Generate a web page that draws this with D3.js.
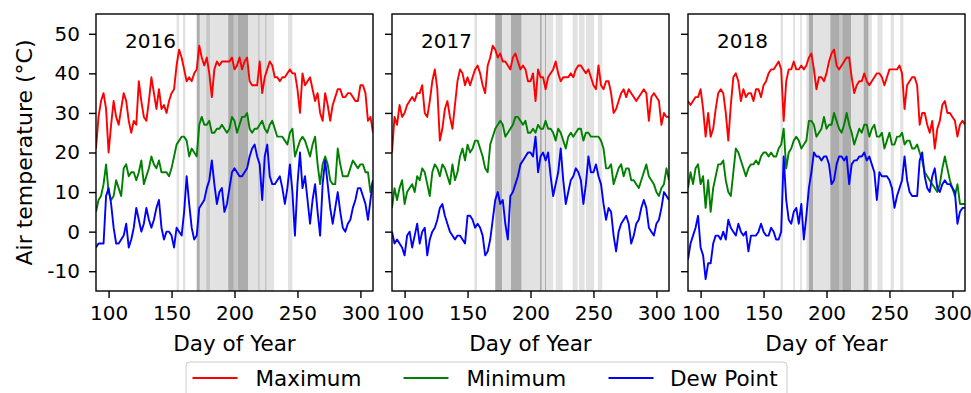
<!DOCTYPE html>
<html>
<head>
<meta charset="utf-8">
<script src="https://cdn.jsdelivr.net/npm/d3@7"></script>
<style>
  body { margin: 0; background: #fff; }
  text { font-family: "DejaVu Sans", sans-serif; fill: #000; }
</style>
</head>
<body>
<div id="viscontainer"></div>
<script>
const years = ["2016", "2017", "2018"];
const seriesNames = ["Maximum", "Minimum", "Dew Point"];
const xTicks = [100, 150, 200, 250, 300];
const yTicks = [-10, 0, 10, 20, 30, 40, 50];
// every second day of year, 90 .. 310
const days = d3.range(90, 311, 2);

const max2016 = [
  21,29,33,35,31,20,27,33,29,27,
  31,35,33,28,25,28,27,38,33,29,
  28,33,39,35,31,36,31,32,30,33,
  35,36,42,46,44,41,38,39,38,40,
  41,47,44,42,44,40,34,41,43,42,
  43,43,43,43,44,41,42,44,41,43,
  44,38,37,37,37,43,35,39,41,43,
  42,39,39,38,39,39,40,41,40,40,
  36,30,40,37,38,39,36,33,35,30,
  28,35,32,28,32,34,36,36,34,34,
  35,35,34,33,33,37,37,35,28,29,
  25];
const min2016 = [
  5,8,9,12,17,10,8,9,13,11,
  9,16,17,14,15,15,13,15,18,12,
  14,16,19,17,16,18,15,15,15,14,
  16,19,22,23,24,24,23,19,21,20,
  19,27,29,27,27,28,25,25,26,26,
  27,26,25,26,29,28,25,27,29,29,
  30,26,25,26,26,27,28,26,25,27,
  28,26,24,24,24,23,22,25,26,19,
  21,23,24,23,21,19,22,24,17,12,
  17,19,17,13,12,12,21,17,14,14,
  14,16,18,17,16,17,17,15,15,10,
  13];
const dew2016 = [
  -4,-3,-3,-3,9,11,7,1,-3,-3,
  -2,-1,2,-4,-2,1,6,3,0,2,
  6,3,1,3,6,8,1,-2,0,0,
  -1,-4,1,0,-1,5,14,7,1,-2,
  -1,6,7,8,11,13,18,12,7,10,
  11,5,7,11,15,16,15,14,14,15,
  16,19,21,22,19,17,8,19,22,14,
  12,12,13,14,11,7,11,17,10,-1,
  12,20,11,14,8,2,8,12,5,-1,
  12,18,12,6,2,6,10,5,1,0,
  2,3,6,8,11,11,9,7,3,8,
  13];

const max2017 = [
  20,29,27,32,29,30,32,33,34,33,
  35,35,37,30,29,33,38,41,36,23,
  26,31,33,29,26,32,38,41,40,37,
  39,37,39,41,42,40,37,35,42,44,
  47,46,44,45,43,43,42,41,44,45,
  43,41,42,41,38,38,40,33,41,39,
  39,36,39,40,41,43,40,38,39,39,
  39,40,39,41,42,42,41,40,41,39,
  37,36,42,37,36,38,38,35,30,31,
  33,35,36,34,36,35,34,33,34,35,
  36,35,28,34,35,34,33,27,30,29,
  29];
const min2017 = [
  6,11,8,11,13,7,10,11,12,10,
  14,13,16,15,12,9,15,17,16,14,
  17,16,14,12,17,13,15,19,21,18,
  22,20,21,23,23,21,19,16,15,22,
  24,26,27,28,27,24,25,26,27,29,
  29,28,27,28,25,25,26,25,27,26,
  26,28,26,26,25,23,26,25,23,21,
  24,25,24,25,26,26,23,25,25,24,
  24,24,24,23,21,16,16,17,12,14,
  16,17,14,16,16,13,13,12,11,13,
  15,17,14,13,12,10,9,11,12,16,
  13];
const dew2017 = [
  0,-3,-2,-3,-4,-6,-1,0,-4,-1,
  2,-3,0,1,-6,-2,0,1,3,6,
  7,4,2,0,-1,-2,-1,-1,-2,-3,
  4,4,3,1,2,1,-1,-6,-5,-2,
  3,8,10,7,8,2,-2,9,10,12,
  14,17,18,19,20,20,19,24,15,19,
  20,18,20,14,9,12,15,21,13,7,
  10,13,14,16,15,13,7,12,19,15,
  15,17,14,12,7,3,6,5,-1,-5,
  0,2,3,4,2,-3,-1,2,3,6,
  8,6,1,0,-1,2,3,6,10,9,
  8];

const max2018 = [
  33,32,33,34,34,36,31,24,30,24,
  26,31,35,36,35,30,23,32,39,40,
  38,33,36,34,35,35,33,36,36,34,
  37,38,40,41,41,42,43,41,28,38,
  41,41,43,41,41,42,41,42,44,45,
  41,36,39,39,38,40,43,45,46,42,
  41,42,43,44,44,39,35,37,38,38,
  40,38,37,38,39,40,40,39,37,39,
  41,41,41,41,42,40,31,37,38,39,
  39,37,27,30,30,27,25,28,21,26,
  28,32,33,30,30,29,28,24,27,28,
  27];
const min2018 = [
  11,15,12,16,17,12,14,6,13,5,
  11,14,17,17,18,13,10,9,15,21,
  20,18,16,14,16,17,17,18,17,19,
  20,20,19,20,19,19,21,22,26,16,
  20,21,23,24,23,21,22,23,28,28,
  27,24,25,26,29,26,27,27,30,28,
  26,25,27,30,27,25,22,24,26,25,
  27,27,24,26,27,24,24,25,21,23,
  25,22,22,24,24,25,22,23,23,21,
  21,22,20,18,15,14,13,12,11,10,
  12,16,19,16,13,11,9,12,7,7,
  7];
const dew2018 = [
  -7,-3,-1,1,4,-4,-6,-12,-8,-8,
  -3,-1,-1,-2,0,-2,3,1,0,-1,
  2,0,-1,0,-5,-1,-1,-1,0,2,
  0,-1,-1,1,0,-2,-2,0,19,8,
  3,2,5,6,2,7,-2,4,11,15,
  20,19,19,18,19,19,17,12,13,17,
  19,19,18,19,12,17,18,18,19,19,
  20,18,19,17,15,8,15,14,14,14,
  13,11,6,9,11,13,19,13,10,9,
  9,9,18,20,14,11,10,14,16,11,
  10,12,13,12,12,11,10,2,5,6,
  6];

// shaded day spans: [start, end, level] level 1 light, 2 medium, 3 dark
const bands2016 = [
  [154,156,1],[159,161,1],[170,172.5,3],[172.5,177.5,1],[177.5,180.5,2],
  [180.5,195,1],[195,199.5,3],[199.5,202.5,2],[202.5,211,3],[211,219,1],
  [219,220,3],[220,224.5,1],[224.5,225.5,3],[225.5,231.5,1],[242.5,246,1]];
const bands2017 = [
  [155.5,157.5,1],[172,177.5,3],[177.5,184.5,1],[184.5,193,3],[193,207.5,1],
  [207.5,209,3],[209,211.5,1],[211.5,212.5,3],[212.5,218,1],[220,225.5,1],
  [233.5,237.5,1],[238.5,243,1],[244,250.5,1],[253.5,257,1]];
const bands2018 = [
  [163.5,165.5,1],[173.5,175,1],[179,180.5,1],[184,186,1],[186,189.5,3],
  [189.5,203,1],[203,210.5,3],[210.5,212.5,2],[212.5,219.5,3],[219.5,229.5,1],
  [229.5,233.5,3],[233.5,236,1],[240.5,244.5,1],[251,253.5,1],[258.5,261,1]];

const panels = [
  { year: years[0], series: [max2016, min2016, dew2016], bands: bands2016 },
  { year: years[1], series: [max2017, min2017, dew2017], bands: bands2017 },
  { year: years[2], series: [max2018, min2018, dew2018], bands: bands2018 }
];

const colors = ["#ff0000", "#008000", "#0000ff"];
const bandFill = { 1: "#e2e2e2", 2: "#c6c6c6", 3: "#acacac" };

const width = 971;
const height = 393;
const panelLefts = [96, 392, 688];
const panelW = 277;
const plotTop = 14;
const plotBottom = 291;

const svg = d3.select("#viscontainer")
  .append("svg")
  .attr("width", width)
  .attr("height", height);

const y = d3.scaleLinear().domain([-15, 55]).range([plotBottom, plotTop]);

panels.forEach((p, k) => {
  const left = panelLefts[k];
  const x = d3.scaleLinear().domain([90, 310]).range([left, left + panelW]);
  const g = svg.append("g");

  g.append("clipPath").attr("id", "clip" + k)
    .append("rect")
    .attr("x", left).attr("y", plotTop)
    .attr("width", panelW).attr("height", plotBottom - plotTop);

  const body = g.append("g").attr("clip-path", `url(#clip${k})`);

  body.selectAll("rect.band")
    .data(p.bands)
    .join("rect")
    .attr("class", "band")
    .attr("x", d => x(d[0]))
    .attr("y", plotTop)
    .attr("width", d => x(d[1]) - x(d[0]))
    .attr("height", plotBottom - plotTop)
    .attr("fill", d => bandFill[d[2]]);

  const line = d3.line()
    .x((d, i) => x(days[i]))
    .y(d => y(d));

  body.selectAll("path.series")
    .data(p.series)
    .join("path")
    .attr("class", "series")
    .attr("d", line)
    .attr("fill", "none")
    .attr("stroke", (d, i) => colors[i])
    .attr("stroke-width", 1.9)
    .attr("stroke-linejoin", "round");

  // frame
  g.append("rect")
    .attr("x", left).attr("y", plotTop)
    .attr("width", panelW).attr("height", plotBottom - plotTop)
    .attr("fill", "none")
    .attr("stroke", "#000")
    .attr("stroke-width", 1.4);

  const xAxis = g.append("g")
    .attr("transform", `translate(0,${plotBottom})`)
    .call(d3.axisBottom(x).tickValues(xTicks).tickSize(7).tickPadding(8).tickFormat(d => String(d)));

  const yAxis = g.append("g")
    .attr("transform", `translate(${left},0)`)
    .call(d3.axisLeft(y).tickValues(yTicks).tickSize(7).tickPadding(9)
      .tickFormat(k === 0 ? (d => String(d)) : () => ""));

  [xAxis, yAxis].forEach(a => {
    a.select(".domain").remove();
    a.selectAll(".tick line").attr("stroke", "#000").attr("stroke-width", 1.4);
    a.selectAll(".tick text")
      .attr("font-size", "20px")
      .attr("font-family", "DejaVu Sans")
      .attr("fill", "#000");
  });

  g.append("text")
    .attr("x", left + 29)
    .attr("y", 48)
    .attr("font-size", "20px")
    .text(p.year);

  g.append("text")
    .attr("x", left + panelW / 2)
    .attr("y", 351)
    .attr("text-anchor", "middle")
    .attr("font-size", "21.5px")
    .text("Day of Year");
});

svg.append("text")
  .attr("transform", `translate(32,${(plotTop + plotBottom) / 2}) rotate(-90)`)
  .attr("text-anchor", "middle")
  .attr("font-size", "22px")
  .text("Air temperature (°C)");

// legend
const legend = svg.append("g");
legend.append("rect")
  .attr("x", 186).attr("y", 362)
  .attr("width", 601).attr("height", 44)
  .attr("rx", 4)
  .attr("fill", "#fff")
  .attr("stroke", "#cccccc")
  .attr("stroke-width", 1);

const legendLineX = [192.5, 403.5, 608.5];
const legendTextX = [255.5, 466.5, 670];
seriesNames.forEach((name, i) => {
  legend.append("line")
    .attr("x1", legendLineX[i]).attr("x2", legendLineX[i] + 45)
    .attr("y1", 378).attr("y2", 378)
    .attr("stroke", colors[i])
    .attr("stroke-width", 1.9);
  legend.append("text")
    .attr("x", legendTextX[i])
    .attr("y", 386)
    .attr("font-size", "21.5px")
    .text(name);
});
</script>
</body>
</html>
